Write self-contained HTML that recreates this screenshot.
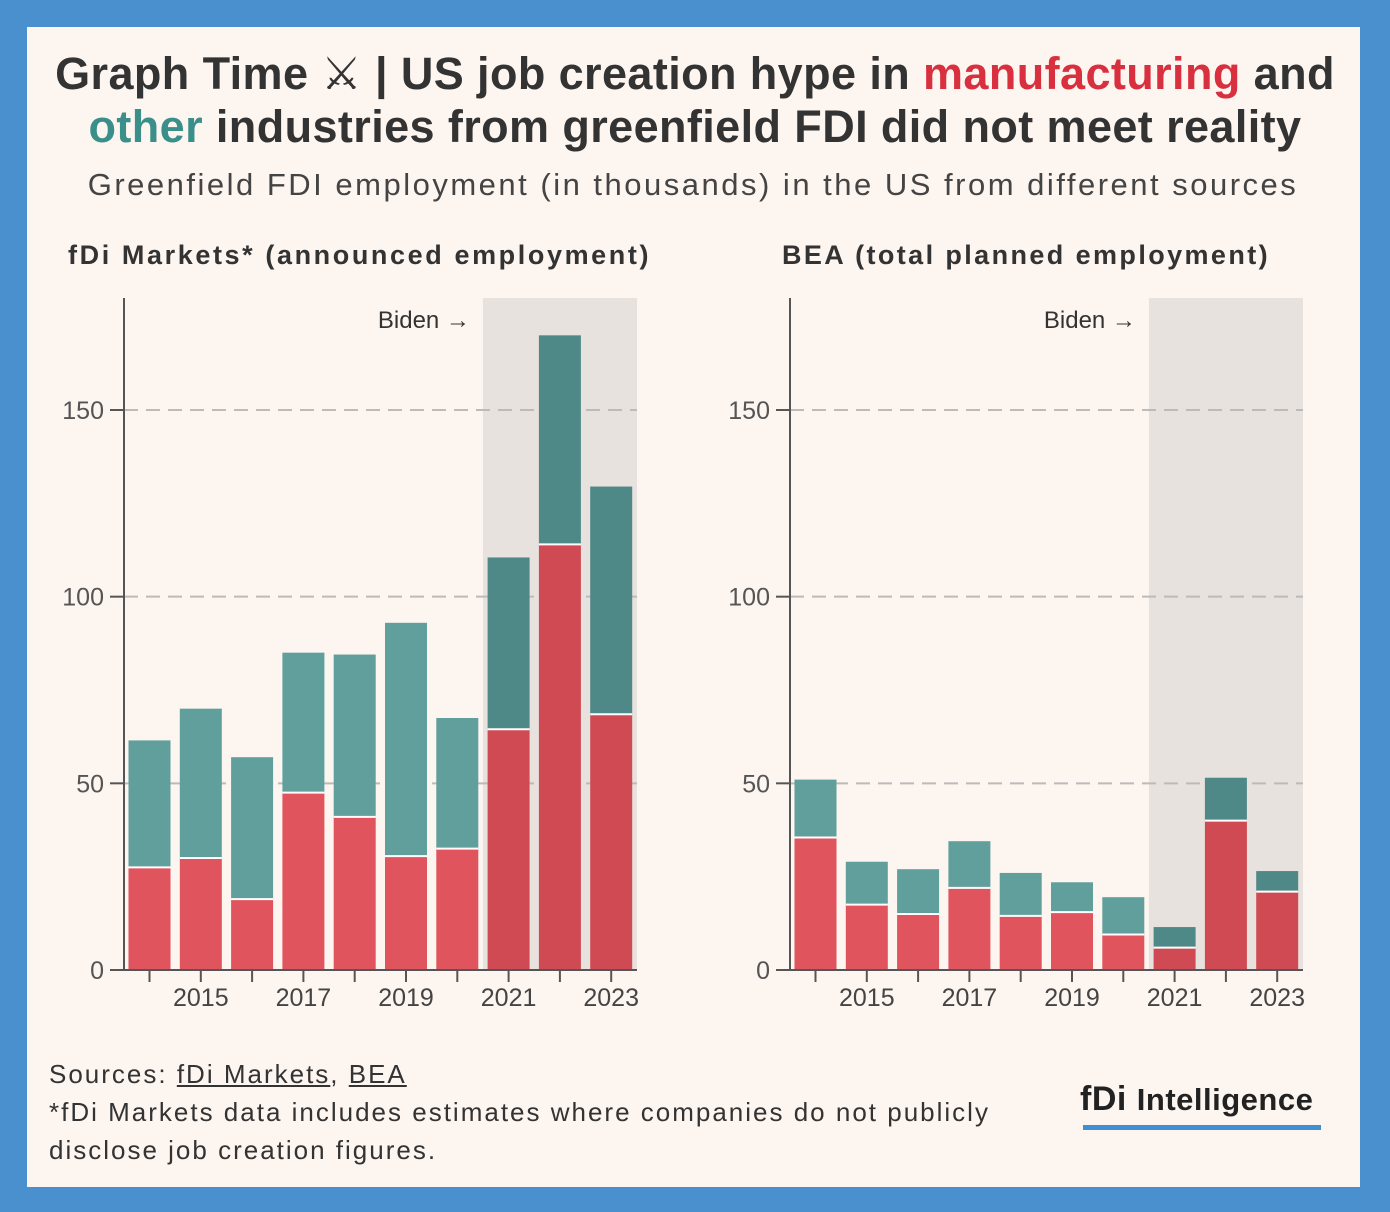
<!DOCTYPE html>
<html><head><meta charset="utf-8">
<style>
html,body{margin:0;padding:0;}
body{width:1390px;height:1212px;background:#4a90cf;position:relative;overflow:hidden;font-family:"Liberation Sans","DejaVu Sans",sans-serif;}
#card{position:absolute;left:27px;top:27px;width:1333px;height:1160px;background:#fdf5f0;}
.t{position:absolute;white-space:nowrap;color:#333;}
</style></head><body>
<div id="card"></div>
<div class="t" style="left:0;width:1390px;top:47px;text-align:center;font-size:45px;letter-spacing:0.4px;font-weight:bold;line-height:53px;color:#333;">Graph Time ⚔ | US job creation hype in <span style="color:#d9303f">manufacturing</span> and<br><span style="color:#3a8f8a">other</span> industries from greenfield FDI did not meet reality</div>
<div class="t" style="left:0;width:1386px;top:167px;text-align:center;font-size:31px;letter-spacing:2.5px;color:#444;">Greenfield FDI employment (in thousands) in the US from different sources</div>
<div class="t" style="left:68px;top:240px;font-size:27px;letter-spacing:2.6px;font-weight:bold;">fDi Markets* (announced employment)</div>
<div class="t" style="left:782px;top:240px;font-size:27px;letter-spacing:2.4px;font-weight:bold;">BEA (total planned employment)</div>
<svg id="svg" width="1390" height="1212" style="position:absolute;left:0;top:0"></svg>
<div class="t" style="left:49px;top:1055px;font-size:26px;letter-spacing:2px;line-height:38px;color:#333;">Sources: <u>fDi Markets</u>, <u>BEA</u><br>*fDi Markets data includes estimates where companies do not publicly<br>disclose job creation figures.</div>
<div class="t" style="left:1080px;top:1080px;font-size:34px;font-weight:bold;color:#222;letter-spacing:0.5px;">fDi <span style="font-size:31px">Intelligence</span></div>
<div style="position:absolute;left:1083px;top:1125px;width:238px;height:5px;background:#3f8fd2;"></div>
<script>
const years=[2014,2015,2016,2017,2018,2019,2020,2021,2022,2023];
const tickYears=[2015,2017,2019,2021,2023];
const yTicks=[0,50,100,150];
const fdiTotal=[61.5,70,57,85,84.5,93,67.5,110.5,170,129.5];
const fdiManuf=[27.5,30,19,47.5,41,30.5,32.5,64.5,114,68.5];
const beaTotal=[51,29,27,34.5,26,23.5,19.5,11.5,51.5,26.5];
const beaManuf=[35.5,17.5,15,22,14.5,15.5,9.5,6,40,21];
const svg=document.getElementById('svg');
const NS='http://www.w3.org/2000/svg';
function mk(tag,attrs){const e=document.createElementNS(NS,tag);for(const k in attrs)e.setAttribute(k,attrs[k]);svg.appendChild(e);return e;}
function panel(ax,right,total,manuf,name){
  const y0=970,k=(970-410)/150;
  const y=v=>y0-v*k;
  const step=51.3;
  const x=i=>ax+25.5+i*step;
  const xYear=yr=>x(years.indexOf(yr));
  const shadeX=(x(6)+x(7))/2;
  let s=mk('rect',{x:shadeX,y:298,width:right-shadeX,height:672,fill:'#e8e2de'});
  
  let b=mk('text',{x:shadeX-13,y:328,'text-anchor':'end','font-size':24,fill:'#333','font-family':'Liberation Sans, sans-serif'});b.textContent='Biden →';
  
  yTicks.forEach(v=>{
    if(v>0){let g=mk('line',{x1:ax,x2:right,y1:y(v),y2:y(v),stroke:'#bbb','stroke-width':2,'stroke-dasharray':'14,8'});
    }
    let tk=mk('line',{x1:ax-14,x2:ax,y1:y(v),y2:y(v),stroke:'#555','stroke-width':2});
    
    let t=mk('text',{x:ax-20,y:y(v)+9,'text-anchor':'end','font-size':25,fill:'#555','font-family':'Liberation Sans, sans-serif'});t.textContent=v;
    
  });
  years.forEach((yr,i)=>{
    const dark=i>=7;
    const cx=x(i),w=42;
    let r1=mk('rect',{x:cx-w/2,y:y(total[i]),width:w,height:y(manuf[i])-y(total[i]),fill:dark?'#4f8987':'#609f9c'});
    
    let r2=mk('rect',{x:cx-w/2,y:y(manuf[i]),width:w,height:y(0)-y(manuf[i]),fill:dark?'#d04a54':'#e0545d'});
    
    let sep=mk('line',{x1:cx-w/2,x2:cx+w/2,y1:y(manuf[i]),y2:y(manuf[i]),stroke:'#fff','stroke-width':2});
    
    let tk=mk('line',{x1:cx,x2:cx,y1:970,y2:982,stroke:'#555','stroke-width':2});
    
  });
  tickYears.forEach(yr=>{
    let t=mk('text',{x:xYear(yr),y:1006,'text-anchor':'middle','font-size':25,fill:'#444','font-family':'Liberation Sans, sans-serif'});t.textContent=yr;
    
  });
  let a=mk('line',{x1:ax,x2:ax,y1:298,y2:971,stroke:'#555','stroke-width':2});
  
  let xa=mk('line',{x1:ax,x2:right,y1:970,y2:970,stroke:'#555','stroke-width':2});
  
}
panel(124,637,fdiTotal,fdiManuf,'fdi-markets');
panel(790,1303,beaTotal,beaManuf,'bea');
</script>
</body></html>
